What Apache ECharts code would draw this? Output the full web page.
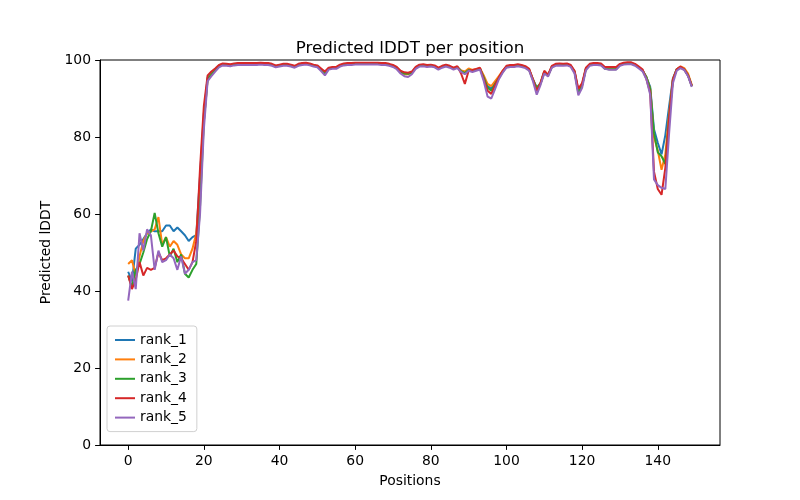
<!DOCTYPE html>
<html>
<head>
<meta charset="utf-8">
<script src="https://cdn.jsdelivr.net/npm/echarts@6/dist/echarts.min.js"></script>
<style>html,body{margin:0;padding:0;background:#fff}#c{width:800px;height:500px}</style>
</head>
<body>
<div id="c"></div>
<script>
const seriesNames = ['rank_1', 'rank_2', 'rank_3', 'rank_4', 'rank_5'];
const xTicks = [0, 20, 40, 60, 80, 100, 120, 140];
const yTicks = [0, 20, 40, 60, 80, 100];

const rank_1 = [
45.0, 42.5, 51.0, 52.0, 53.5, 55.0, 56.0, 55.5, 55.5, 55.5, 57.0, 57.0, 55.5, 56.5, 55.5, 54.5, 53.0, 54.0, 54.5, 70.0, 86.0,
95.5, 96.5, 97.5, 98.5, 98.9, 98.8, 98.7, 98.9, 99.0, 99.0,
99.0, 99.0, 99.0, 99.0, 99.1, 99.0, 99.0, 98.8, 98.4, 98.6,
98.8, 98.8, 98.6, 98.3, 98.8, 99.0, 99.1, 98.9, 98.6, 98.4,
97.5, 96.5, 97.8, 98.0, 98.0, 98.6, 98.9, 99.0, 99.0, 99.1,
99.1, 99.1, 99.1, 99.1, 99.1, 99.1, 99.0, 99.0, 98.8, 98.5,
98.0, 97.0, 96.6, 96.5, 96.8, 98.0, 98.6, 98.7, 98.5, 98.6,
98.4, 97.8, 98.3, 98.6, 98.3, 97.8, 98.2, 97.2, 96.5, 97.5,
97.2, 97.5, 97.8, 95.5, 93.2, 92.5, 94.2, 95.5, 97.0, 98.3,
98.5, 98.5, 98.7, 98.5, 98.2, 97.5, 95.0, 92.8, 94.0, 97.0,
96.0, 98.3, 98.8, 98.9, 98.8, 98.9, 98.5, 97.0, 92.0, 93.5,
97.8, 98.8, 99.0, 99.0, 98.9, 98.0, 97.8, 97.8, 97.8, 98.8,
99.1, 99.2, 99.2, 98.8, 98.1, 97.3, 95.5,
93.0, 82.0, 78.5, 75.5, 80.5, 88.0, 95.2, 97.6, 98.2, 97.6, 96.0, 93.3];

const rank_2 = [
47.0, 48.0, 44.0, 49.0, 53.0, 55.0, 55.5, 56.0, 59.2, 52.0, 54.0, 51.5, 53.0, 52.0, 49.5, 48.5, 48.5, 51.0, 55.0, 66.0, 84.0,
95.0, 96.3, 97.5, 98.5, 98.9, 98.8, 98.7, 98.9, 99.0, 99.0,
99.0, 99.0, 99.0, 99.0, 99.1, 99.0, 99.0, 98.8, 98.4, 98.6,
98.8, 98.8, 98.6, 98.3, 98.8, 99.0, 99.1, 98.9, 98.6, 98.4,
97.5, 96.6, 97.8, 98.0, 98.1, 98.6, 98.9, 99.0, 99.0, 99.1,
99.1, 99.1, 99.1, 99.1, 99.1, 99.1, 99.0, 99.0, 98.8, 98.4,
97.8, 96.8, 96.3, 96.3, 96.8, 98.0, 98.6, 98.7, 98.5, 98.6,
98.4, 97.8, 98.3, 98.6, 98.3, 97.8, 98.2, 97.3, 97.0, 97.8,
97.4, 97.6, 97.9, 96.0, 93.8, 93.2, 94.5, 95.8, 97.2, 98.3,
98.5, 98.5, 98.7, 98.5, 98.2, 97.5, 95.0, 92.5, 94.0, 97.0,
96.0, 98.3, 98.8, 98.9, 98.8, 98.9, 98.5, 97.0, 91.8, 93.5,
97.8, 98.8, 99.0, 99.0, 98.9, 98.0, 97.8, 97.8, 97.8, 98.8,
99.1, 99.2, 99.2, 98.8, 98.1, 97.3, 95.5,
92.5, 80.0, 76.5, 71.5, 75.5, 86.0, 95.0, 97.6, 98.3, 97.9, 96.5, 93.5];

const rank_3 = [
44.0, 41.0, 45.5, 47.0, 50.0, 53.5, 55.5, 60.3, 55.0, 51.5, 54.0, 49.0, 51.0, 47.5, 49.5, 44.5, 43.5, 45.5, 47.0, 62.0, 84.0,
95.0, 96.2, 97.3, 98.4, 98.8, 98.7, 98.6, 98.8, 98.9, 98.9,
98.9, 98.9, 98.9, 98.9, 99.0, 98.9, 98.9, 98.7, 98.3, 98.5,
98.7, 98.7, 98.5, 98.2, 98.7, 98.9, 99.0, 98.8, 98.5, 98.3,
97.4, 96.4, 97.7, 97.9, 97.9, 98.5, 98.8, 98.9, 98.9, 99.0,
99.0, 99.0, 99.0, 99.0, 99.0, 99.0, 98.9, 98.9, 98.7, 98.4,
97.9, 96.9, 96.5, 96.4, 96.7, 97.9, 98.5, 98.6, 98.4, 98.5,
98.3, 97.7, 98.2, 98.5, 98.2, 97.7, 98.1, 97.1, 96.6, 97.4,
97.1, 97.4, 97.7, 95.5, 92.8, 92.0, 93.8, 95.3, 96.9, 98.2,
98.4, 98.4, 98.6, 98.4, 98.1, 97.4, 94.8, 92.8, 93.8, 96.8,
96.0, 98.2, 98.7, 98.8, 98.7, 98.8, 98.4, 96.9, 91.5, 93.4,
97.7, 98.7, 98.9, 98.9, 98.8, 97.7, 97.6, 97.6, 97.6, 98.7,
99.0, 99.1, 99.1, 98.7, 98.0, 97.2, 95.6,
92.5, 81.0, 76.0, 75.0, 73.0, 85.0, 94.8, 97.5, 98.1, 97.5, 96.0, 93.2];

const rank_4 = [
44.0, 40.5, 43.0, 47.5, 44.0, 46.0, 45.5, 46.0, 50.0, 48.0, 48.5, 49.5, 50.5, 49.0, 48.5, 47.0, 45.5, 47.5, 53.0, 72.0, 88.0,
96.0, 97.0, 97.8, 98.7, 99.1, 99.0, 98.9, 99.1, 99.2, 99.2,
99.2, 99.2, 99.2, 99.2, 99.3, 99.2, 99.2, 99.0, 98.6, 98.8,
99.0, 99.0, 98.8, 98.5, 99.0, 99.2, 99.3, 99.1, 98.8, 98.6,
97.8, 97.0, 98.0, 98.2, 98.2, 98.8, 99.1, 99.2, 99.2, 99.3,
99.3, 99.3, 99.3, 99.3, 99.3, 99.3, 99.2, 99.2, 99.0, 98.7,
98.2, 97.2, 96.8, 96.7, 97.0, 98.2, 98.8, 98.9, 98.7, 98.8,
98.6, 98.0, 98.5, 98.8, 98.5, 98.0, 98.4, 96.5, 93.8, 97.2,
97.4, 97.7, 98.0, 95.0, 92.0, 91.2, 93.5, 95.5, 97.2, 98.5,
98.7, 98.7, 98.9, 98.7, 98.4, 97.7, 95.0, 92.0, 94.0, 97.2,
96.2, 98.5, 99.0, 99.1, 99.0, 99.1, 98.7, 97.2, 92.5, 94.0,
98.0, 99.0, 99.2, 99.2, 99.1, 98.2, 98.2, 98.2, 98.2, 99.0,
99.3, 99.4, 99.4, 99.0, 98.3, 97.5, 95.0,
91.5, 71.0, 66.5, 65.0, 72.0, 85.0, 95.0, 97.6, 98.3, 97.6, 96.0, 93.3];

const rank_5 = [
37.5, 45.0, 40.5, 55.0, 50.5, 56.0, 54.5, 45.5, 50.5, 47.5, 48.0, 49.5, 48.5, 45.5, 49.0, 44.5, 45.5, 47.5, 48.0, 60.0, 82.0,
94.5, 95.8, 97.0, 98.1, 98.6, 98.5, 98.4, 98.6, 98.7, 98.7,
98.7, 98.7, 98.7, 98.7, 98.8, 98.7, 98.7, 98.5, 98.1, 98.3,
98.5, 98.5, 98.3, 98.0, 98.5, 98.7, 98.8, 98.6, 98.3, 98.1,
97.1, 96.0, 97.5, 97.7, 97.7, 98.3, 98.6, 98.7, 98.7, 98.8,
98.8, 98.8, 98.8, 98.8, 98.8, 98.8, 98.7, 98.7, 98.5, 98.2,
97.6, 96.5, 95.8, 95.6, 96.3, 97.7, 98.3, 98.4, 98.2, 98.3,
98.1, 97.5, 98.0, 98.3, 98.0, 97.5, 97.9, 96.9, 96.3, 97.2,
96.9, 97.2, 97.5, 94.5, 90.5, 90.0, 92.5, 95.0, 96.7, 98.0,
98.2, 98.2, 98.4, 98.2, 97.9, 97.2, 94.5, 91.0, 93.5, 96.5,
95.7, 98.0, 98.5, 98.6, 98.5, 98.6, 98.2, 96.5, 90.8, 92.8,
97.3, 98.5, 98.7, 98.7, 98.6, 97.7, 97.5, 97.5, 97.5, 98.5,
98.8, 98.9, 98.9, 98.5, 97.8, 97.0, 95.0,
91.0, 69.0, 67.5, 66.8, 66.5, 81.0, 94.0, 97.2, 97.9, 97.4, 95.8, 93.0];

const allSeries = [rank_1, rank_2, rank_3, rank_4, rank_5];
const colors = ['#1f77b4', '#ff7f0e', '#2ca02c', '#d62728', '#9467bd'];
const FONT = 'DejaVu Sans';

const chart = echarts.init(document.getElementById('c'), null, {renderer: 'canvas'});
chart.setOption({
  animation: false,
  backgroundColor: '#fff',
  title: {
    text: 'Predicted lDDT per position',
    left: 405, top: 35, textAlign: 'center',
    textStyle: {fontFamily: FONT, fontSize: 16.7, fontWeight: 'normal', color: '#000'}
  },
  grid: {left: 100, right: 80, top: 60, bottom: 55, show: true, borderColor: '#000', borderWidth: 1, backgroundColor: 'transparent'},
  legend: {
    orient: 'vertical', left: 107, top: 326,
    data: seriesNames,
    icon: 'rect', itemWidth: 20, itemHeight: 2, itemGap: 5.4,
    padding: [7, 10, 7, 8],
    borderColor: '#d0d0d0', borderWidth: 1, borderRadius: 3,
    backgroundColor: 'rgba(255,255,255,0.8)',
    textStyle: {fontFamily: FONT, fontSize: 13.9, color: '#000', lineHeight: 14},
    itemStyle: {borderWidth: 0}
  },
  xAxis: {
    type: 'value', min: -7.45, max: 156.45,
    name: 'Positions', nameLocation: 'middle', nameGap: 29,
    nameTextStyle: {fontFamily: FONT, fontSize: 13.9, color: '#000', verticalAlign: 'top'},
    axisLine: {show: true, onZero: false, lineStyle: {color: '#000', width: 1}},
    axisTick: {show: true, length: 4.9, lineStyle: {color: '#000'}, customValues: xTicks},
    axisLabel: {fontFamily: FONT, fontSize: 13.9, color: '#000', margin: 9, customValues: xTicks},
    splitLine: {show: false}
  },
  yAxis: {
    type: 'value', min: 0, max: 100, interval: 20,
    name: 'Predicted lDDT', nameLocation: 'middle', nameGap: 43,
    nameTextStyle: {fontFamily: FONT, fontSize: 13.9, color: '#000'},
    axisLine: {show: true, onZero: false, lineStyle: {color: '#000', width: 1}},
    axisTick: {show: true, length: 4.9, lineStyle: {color: '#000'}},
    axisLabel: {fontFamily: FONT, fontSize: 13.9, color: '#000', margin: 9},
    splitLine: {show: false}
  },
  series: seriesNames.map((name, k) => ({
    name, type: 'line', showSymbol: false, symbol: 'none',
    data: allSeries[k].map((v, i) => [i, v]),
    lineStyle: {color: colors[k], width: 2},
    itemStyle: {color: colors[k]},
    emphasis: {disabled: true}
  }))
});
</script>
</body>
</html>
